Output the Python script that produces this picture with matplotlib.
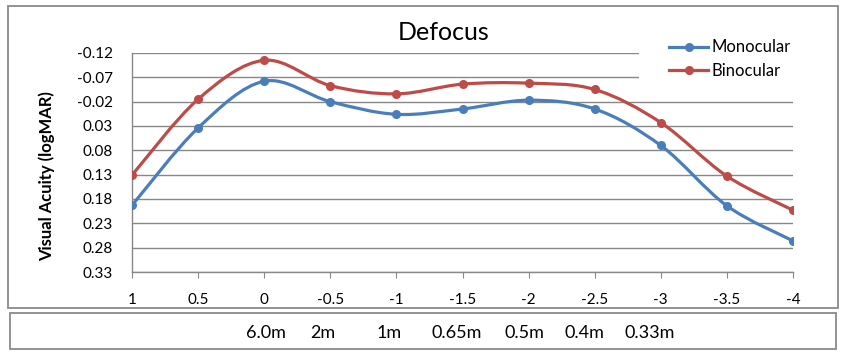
import matplotlib
matplotlib.use('Agg')
import matplotlib.pyplot as plt
import numpy as np
from matplotlib.path import Path
from matplotlib.patches import PathPatch, Rectangle
from matplotlib.lines import Line2D
from matplotlib.ticker import FormatStrFormatter

plt.rcParams['font.family'] = ['Lato', 'DejaVu Sans']

# defocus in dioptres (x axis) and visual acuity in logMAR
defocus = [1, 0.5, 0, -0.5, -1, -1.5, -2, -2.5, -3, -3.5, -4]
monocular = [0.193, 0.034, -0.062, -0.020, 0.006, -0.005, -0.023, -0.005, 0.070, 0.194, 0.266]
binocular = [0.131, -0.025, -0.105, -0.053, -0.036, -0.056, -0.058, -0.045, 0.023, 0.133, 0.203]
yticks = [-0.12, -0.07, -0.02, 0.03, 0.08, 0.13, 0.18, 0.23, 0.28, 0.33]
distances = ['6.0m', '2m', '1m', '0.65m', '0.5m', '0.4m', '0.33m']
dist_x = [266, 323, 389, 457, 524, 584, 650]  # pixel centres

blue = '#4A7EBB'
red = '#BE4B48'
W, H = 844, 354


def smooth_path(x, y):
  # excel style smoothed line: cubic bezier through every point
  p = np.column_stack([x, y]).astype(float)
  ext = np.vstack([p[0], p, p[-1]])
  verts = [p[0]]
  codes = [Path.MOVETO]
  for i in range(len(p) - 1):
    c1 = ext[i + 1] + (ext[i + 2] - ext[i]) / 6.0
    c2 = ext[i + 2] - (ext[i + 3] - ext[i + 1]) / 6.0
    verts += [c1, c2, p[i + 1]]
    codes += [Path.CURVE4] * 3
  return Path(verts, codes)


fig = plt.figure(figsize=(W / 100, H / 100), dpi=100)
ax = fig.add_axes([132 / W, 1 - 272 / H, (793 - 132) / W, (272 - 53) / H])

for vals, col in [(monocular, blue), (binocular, red)]:
  ax.add_patch(PathPatch(smooth_path(defocus, vals), fill=False, edgecolor=col,
                         lw=2.3, zorder=3, capstyle='round'))
  ax.plot(defocus, vals, 'o', color=col, ms=5.5, zorder=4)

ax.set_xlim(1, -4)
ax.set_ylim(0.33, -0.12)
ax.set_xticks(defocus)
ax.xaxis.set_major_formatter(FormatStrFormatter('%g'))
ax.set_yticks(yticks)
ax.yaxis.set_major_formatter(FormatStrFormatter('%.2f'))
ax.grid(axis='y', color='#888888', lw=1.0)
ax.set_axisbelow(True)
for s in ['top', 'right']:
  ax.spines[s].set_visible(False)
for s in ['left', 'bottom']:
  ax.spines[s].set_color('#888888')
  ax.spines[s].set_linewidth(1.0)
ax.tick_params(axis='y', length=0, pad=14, labelsize=11)
ax.tick_params(axis='x', length=4, color='#888888', direction='out', pad=11, labelsize=11)
ax.set_ylabel('Visual Acuity (logMAR)', fontsize=12, fontweight='bold')
ax.yaxis.set_label_coords((55 - 132) / (793 - 132), 0.44)

# white area behind the legend, hides the top grid lines
fig.add_artist(Rectangle((639 / W, 1 - 90 / H), (800 - 639) / W, (90 - 36) / H,
                         transform=fig.transFigure, facecolor='white',
                         edgecolor='none', zorder=2))
handles = [Line2D([], [], color=blue, lw=2.3, marker='o', ms=5.5),
           Line2D([], [], color=red, lw=2.3, marker='o', ms=5.5)]
fig.legend(handles, ['Monocular', 'Binocular'], loc='upper left',
           bbox_to_anchor=(666 / W, 1 - 36 / H), frameon=False, fontsize=12,
           handlelength=2.3, handletextpad=0.25, labelspacing=0.45,
           borderaxespad=0, borderpad=0.2)

fig.text(444 / W, 1 - 33 / H, 'Defocus', ha='center', va='center', fontsize=18)

# chart border and the distance box below
fig.add_artist(Rectangle((8 / W, 1 - 308 / H), (838 - 8) / W, (308 - 6) / H,
                         transform=fig.transFigure, fill=False,
                         edgecolor='#8a8a8a', lw=1.3))
fig.add_artist(Rectangle((10 / W, 1 - 349 / H), (836 - 10) / W, (349 - 313) / H,
                         transform=fig.transFigure, fill=False,
                         edgecolor='#8a8a8a', lw=1.3))
for lab, xp in zip(distances, dist_x):
  fig.text(xp / W, 1 - 333 / H, lab, ha='center', va='center', fontsize=13)

fig.savefig('out.png', dpi=100)
